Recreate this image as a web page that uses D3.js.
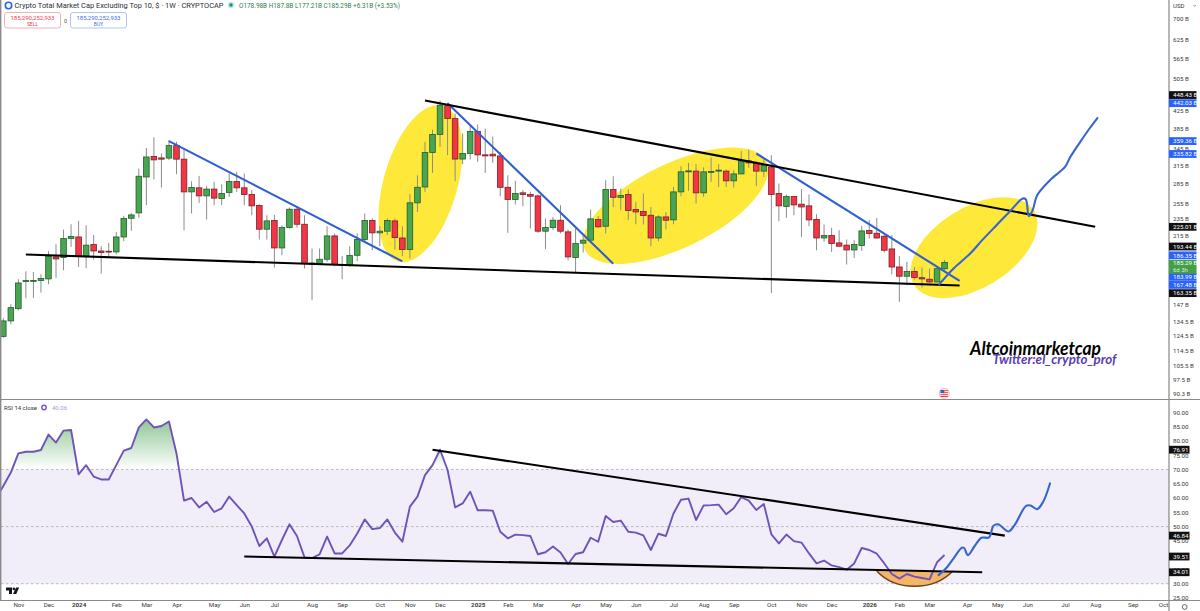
<!DOCTYPE html>
<html>
<head>
<meta charset="utf-8">
<script src="https://cdn.jsdelivr.net/npm/d3@7/dist/d3.min.js"></script>
<style>
	html, body { margin: 0; padding: 0; background: #fff; overflow: hidden; }
	text { font-family: Roboto, sans-serif; }
	.axis path, .axis line { display: none; }
</style>
</head>
<body>
<svg id="chart" width="1200" height="611"></svg>
<script>
// weekly candles in billions of USD
var opens = [123.7,134.6,143.9,166.9,167.4,167.8,169.3,190.9,190.3,211.1,
	212.9,191.6,204.3,197.2,196.9,196.2,212.9,235.8,242.8,295.4,
	330.3,327.8,327.5,350.6,325.6,272.3,278.4,266.4,276.5,262.7,
	271.5,288.2,278.4,268.5,252.7,222.1,232.9,200.5,224.1,247.7,
	228.2,184.7,184.1,188.5,214.1,183.1,182.4,192.6,210,232.9,
	217.7,219.7,232.4,211.7,198.8,256.5,279.7,337.7,372.7,437.2,
	406.3,325.8,335.9,378.9,333.3,334.6,331.4,279.2,261.3,270.9,
	268.5,266.4,219.7,224.1,233.3,218.9,190.3,205.8,209.2,234.2,
	225.7,275.9,264.3,268.5,247.3,244.7,239.7,211.7,237.5,233.7,
	272.3,303.8,305,270.9,303.3,305,305,289.2,300.4,322.6,
	317.8,305,312,270,251.5,265.5,254.6,252.3,234.2,211.7,
	214.5,206.1,203.6,198.3,203.2,220.5,217.3,213.7,199.4,180.7,
	171.8,176.2,170.4,169,166.5,178.98];
var highs = [136.6,147.4,169,176.5,175.8,173.6,196.9,204.6,221.7,228.2,
	232.4,227,215.3,202.4,206.1,218.9,239,242.7,309.2,346.1,
	367,335.9,361.3,358,345.8,288.7,297.1,281.1,287.6,284,
	301,303.8,301,274.9,254.6,239.7,240.1,227,250,250.8,
	239.7,199.9,199.9,225.8,217,191.8,202.4,217,242,235.5,
	226.1,235.5,235.5,225.7,269.2,298.2,358,382.5,448.4,442.9,
	417.9,374.7,392,393.5,384.7,368.5,338.8,298.2,289.2,274.9,
	272.3,268.5,235.5,237.5,253.2,221.7,222.9,215,247.3,238.4,
	290.3,296.6,277.5,275.9,257.9,270,250.8,239.7,244.1,279.7,
	313.2,319,316.8,311.4,328.4,316.8,307.8,306.6,340.7,343.3,
	322,326.9,332.7,285.1,268.5,266.4,276.5,268.5,241,227.8,
	223.7,220.9,210,209.2,226.1,233.3,236.2,215.7,215,191.8,
	185.8,180.7,180.1,179.2,179.2,187.8];
var lows = [122.7,132.1,142.6,152.3,152.6,157.1,164.4,170.3,177.5,201.6,
	180.7,179.4,188.2,174.3,190.3,193.4,208,220.1,236.5,253.2,
	291.4,278.8,323.8,300,220.9,242,256.5,234.2,253.2,253.2,
	265,272.3,253.2,239.7,209.9,209.9,180.1,192.6,222.9,224.1,
	179.2,150.7,183.4,185.8,181.4,169,180.7,186.5,207.3,198,
	202.4,215,198.8,191.8,189.3,244.1,272.3,302.1,348.1,332.7,
	288.7,316.8,325.1,320.8,302.1,319,265.9,217.7,254.2,251.8,
	222.9,217.7,199.1,220.9,217,187.5,175.3,195.5,207.3,223.7,
	217,250.8,246.4,233.3,228.2,227.8,202.4,208,221.7,228.2,
	265.9,273.8,255.6,265,287.6,279.7,279.7,278.8,300,310.6,
	281.3,295.4,156.8,232,236.2,239.7,212.9,225.7,198,207.3,
	196.2,201.6,183.1,189.7,197.2,211.1,211.1,195.5,173.6,149.3,
	163.5,168.7,161.5,165.6,166,177.21];
var closes = [134.6,144.7,165.6,167.8,167.8,169.7,191.6,188.8,211.1,213.4,
	191.6,203.6,197.2,195.5,196.3,212.9,235.5,240.1,296.6,329.5,
	324.3,325.6,350.6,325.6,272.3,279,266.4,276.5,263.2,270,
	288.2,278.4,268.5,252.3,222.1,232.4,200.5,224.1,247.7,228.2,
	184.1,183.9,188.5,214.1,183.1,182.7,192.3,210,232.9,217.7,
	219.7,232.9,212.1,198.8,256.5,279.2,337.7,372.7,437.2,406.3,
	325.8,335.9,378.9,333.3,331.5,331.4,279.2,261.3,270,268.5,
	265.9,219.7,224.1,233.3,219.7,190.9,205.4,209.2,235,225,
	275.9,264.3,267,246,244.1,239.3,211.7,237.5,233.3,272.3,
	303.8,305.4,270.9,303.8,304.3,306.6,289.2,300.4,322.6,319,
	305,315.1,268.5,252.3,265.5,253.6,250.8,233.7,211.7,214.5,
	205.4,202.4,198.3,204.3,220,217,211.7,198,180.7,171.8,
	176.2,170.7,169.3,166.5,178.98,185.29];

// RSI, first value sits one bar left of the first candle
var rsiFirstBar = -1;
var rsiValues = [59.8,64.2,68.9,75.6,76.2,76.2,76.8,82.2,79.4,83.6,83.8,
	68.3,71.5,67.5,66.5,66.5,71.5,76.6,77.5,84.7,87.5,
	84.7,85.2,86.8,75.6,59.1,60,56.7,58.7,55.1,56.4,
	60.5,57.5,54.6,50,43.2,45.9,39.5,45.3,50.8,46.7,
	39.2,39,40.3,46.5,40.6,40.6,43.4,47.6,52.5,49.1,
	49.5,52.5,47.9,44.7,57,60.5,68,71.5,76.9,69.8,
	56.7,58.1,62.2,55.7,55.7,55.6,48.2,45.9,47.2,47,
	46.7,40.3,41,43,40.9,36.9,40.4,41,46.1,44.7,
	53.7,51.6,52.1,48.2,47.9,46.9,41.8,47.5,46.7,54.6,
	59.4,59.8,52.3,57.4,57.5,57.7,54.3,56.4,60.3,59.1,
	55.8,57.9,47.3,44.1,47.2,44.9,44.4,40.6,37.1,38.1,
	36.4,35.8,34.9,37.1,42.5,41.8,40.5,37.1,33.4,31.8,
	33.4,32.5,32,31.5,37.5,40.06];

// trend lines as [bar, value, bar, value]
var blackPriceLines = [[3, 193.44, 127, 163.35], [56, 448.43, 145, 225.01]];
var bluePriceLines = [[22, 359.36, 53, 186.35], [59, 442.03, 81, 183.99], [100, 335.82, 127, 167.48]];
var blackRsiLines = [[32, 39.51, 130, 34.01], [57, 76.91, 133, 46.84]];

// hand drawn forecast paths, [bar, value]
var priceForecast = [[124.3,164.4],[126.2,179.2],[128.4,194.4],[130,209.2],[131.9,227],[133.7,245.1],
	[135.4,262.7],[135.8,261.3],[136.2,238.5],[136.7,246.4],[137.3,267.4],[139,290.3],
	[141,312],[141.7,329.5],[143,357.4],[144.3,386],[145.3,407.6]];
var rsiForecast = [[124.2,33],[125.3,35.7],[126.2,38.9],[127.3,42.6],[127.6,42.5],[128.1,40],[129,43.2],
	[129.9,46.1],[130.9,46.2],[131.5,50.3],[132.1,50.8],[133.5,48.3],[134.3,50.5],[135.8,57.2],
	[136.4,57.4],[137.3,56.1],[138.1,58.7],[139,65.1]];

// highlighted zones, [bar, value] of the centre
var zoneCentres = [[55.4, 284.9], [89.3, 252.5], [128.9, 200.8]];

var priceTicks = [700,625,565,505,425,385,345,315,285,255,235,215,147,134.5,124.5,114.5,105.5,97.5,90.3];
var rsiTicks = [90,85,80,75,70,65,60,55,50,45,40,35,30,25];
var rsiLevels = [70,50,30];
var timeBars = [2,6,10,15,19,23,28,32,36,41,45,50,54,58,63,67,71,76,80,84,89,93,97,102,106,110,115,119,123,128,132,136,141,145,150,154];
var timeLabels = ['Nov','Dec','2024','Feb','Mar','Apr','May','Jun','Jul','Aug','Sep','Oct','Nov','Dec','2025','Feb','Mar','Apr','May','Jun','Jul','Aug','Sep','Oct','Nov','Dec','2026','Feb','Mar','Apr','May','Jun','Jul','Aug','Sep','Oct'];

var priceTags = [448.43, 442.03, 359.36, 335.82, 225.01, 193.44, 186.35, 183.99, 167.48, 163.35];
var rsiTags = [76.91, 46.84, 39.51, 34.01];

var w = 1200;
var h = 611;
var axisX = 1169;

var svg = d3.select('#chart');

var x = d3.scaleLinear().domain([0, 125]).range([3.3, 944.55]);
var y = d3.scaleLog().domain([90.3, 700]).range([394, 19]);
var yr = d3.scaleLinear().domain([25, 90]).range([598, 412.3]);

var defs = svg.append('defs');
defs.append('clipPath').attr('id', 'plot_clip')
	.append('rect').attr('x', 1).attr('y', 0).attr('width', axisX - 1).attr('height', h);
defs.append('clipPath').attr('id', 'over_clip')
	.append('rect').attr('x', 1).attr('y', yr(90)).attr('width', axisX - 1).attr('height', yr(70) - yr(90));
var grad = defs.append('linearGradient').attr('id', 'over_grad')
	.attr('gradientUnits', 'userSpaceOnUse')
	.attr('x1', 0).attr('x2', 0).attr('y1', yr(88)).attr('y2', yr(70));
grad.append('stop').attr('offset', 0).attr('stop-color', '#3f9f48').attr('stop-opacity', 0.6);
grad.append('stop').attr('offset', 1).attr('stop-color', '#3f9f48').attr('stop-opacity', 0);

// yellow zones go under the candles
var zoneAxes = [[37, 81, 16], [42, 101, 64], [40, 70.5, 58]];
svg.selectAll('.zone')
	.data(zoneCentres)
	.enter().append('ellipse')
	.attr('class', 'zone')
	.attr('rx', (d, i) => zoneAxes[i][0])
	.attr('ry', (d, i) => zoneAxes[i][1])
	.attr('transform', (d, i) => 'translate(' + x(d[0]) + ',' + y(d[1]) + ') rotate(' + zoneAxes[i][2] + ')')
	.attr('fill', '#fee93a');

// candles
var bars = d3.range(opens.length);
var candle = svg.append('g').attr('clip-path', 'url(#plot_clip)')
	.selectAll('.candle')
	.data(bars)
	.enter().append('g')
	.attr('class', 'candle');

candle.append('line')
	.attr('x1', i => x(i))
	.attr('x2', i => x(i))
	.attr('y1', i => y(highs[i]))
	.attr('y2', i => y(lows[i]))
	.attr('stroke', '#8c8c8c')
	.attr('stroke-width', 1);

candle.append('rect')
	.attr('x', i => x(i) - 2.8)
	.attr('width', 5.6)
	.attr('y', i => y(Math.max(opens[i], closes[i])))
	.attr('height', i => Math.max(0.8, Math.abs(y(opens[i]) - y(closes[i]))))
	.attr('fill', i => closes[i] >= opens[i] ? '#4aa552' : '#f23645')
	.attr('stroke', i => closes[i] >= opens[i] ? '#1f5f2a' : '#7a1f28')
	.attr('stroke-width', 0.8);

function drawLines(lines, yscale, color) {
	svg.append('g').selectAll('line')
		.data(lines)
		.enter().append('line')
		.attr('x1', d => x(d[0]))
		.attr('y1', d => yscale(d[1]))
		.attr('x2', d => x(d[2]))
		.attr('y2', d => yscale(d[3]))
		.attr('stroke', color)
		.attr('stroke-width', 2.1);
}

function drawForecast(points, yscale) {
	var line = d3.line()
		.x(d => x(d[0]))
		.y(d => yscale(d[1]))
		.curve(d3.curveCatmullRom.alpha(0.5));
	svg.append('path')
		.attr('d', line(points))
		.attr('fill', 'none')
		.attr('stroke', '#3566cf')
		.attr('stroke-width', 2.1)
		.attr('stroke-linecap', 'round');
}

drawLines(bluePriceLines, y, '#2f5fd0');
drawLines(blackPriceLines, y, '#000');
drawForecast(priceForecast, y);

// RSI pane
svg.append('rect')
	.attr('x', 1)
	.attr('width', axisX - 1)
	.attr('y', yr(70))
	.attr('height', yr(30) - yr(70))
	.attr('fill', '#f1edf9');

svg.append('g').selectAll('line')
	.data(rsiLevels)
	.enter().append('line')
	.attr('x1', 1)
	.attr('x2', axisX)
	.attr('y1', d => yr(d))
	.attr('y2', d => yr(d))
	.attr('stroke', '#a9a9a9')
	.attr('stroke-width', 0.8)
	.attr('stroke-dasharray', '2.5,2.5');

var rsiX = (d, i) => x(i + rsiFirstBar);

svg.append('path')
	.attr('clip-path', 'url(#over_clip)')
	.attr('d', d3.area().x(rsiX).y0(yr(70)).y1(d => yr(d))(rsiValues))
	.attr('fill', 'url(#over_grad)');

// orange bowl under the RSI support line
var bowl = d3.path();
bowl.moveTo(x(116), yr(34.45));
bowl.bezierCurveTo(x(118.5), yr(27.3), x(123.5), yr(27.3), x(126.1), yr(34.45));
svg.append('path')
	.attr('d', bowl.toString() + 'Z')
	.attr('fill', '#f5b568');
svg.append('path')
	.attr('d', bowl.toString())
	.attr('fill', 'none')
	.attr('stroke', '#6e430f')
	.attr('stroke-width', 1.5);

svg.append('path')
	.attr('clip-path', 'url(#plot_clip)')
	.attr('d', d3.line().x(rsiX).y(d => yr(d))(rsiValues))
	.attr('fill', 'none')
	.attr('stroke', '#6f53b8')
	.attr('stroke-width', 1.9)
	.attr('stroke-linejoin', 'round');

drawLines(blackRsiLines, yr, '#000');
drawForecast(rsiForecast, yr);

// frame
var frame = svg.append('g').attr('stroke', '#8a8a8a');
frame.append('line').attr('x1', 0.7).attr('x2', 0.7).attr('y1', 0).attr('y2', 600).attr('stroke-width', 1.4);
frame.append('line').attr('x1', axisX).attr('x2', axisX).attr('y1', 0).attr('y2', h).attr('stroke-width', 1).attr('stroke', '#6f6f6f');
frame.append('line').attr('x1', 0).attr('x2', w).attr('y1', 399.5).attr('y2', 399.5).attr('stroke-width', 1);
frame.append('line').attr('x1', 0).attr('x2', w).attr('y1', 600.5).attr('y2', 600.5).attr('stroke-width', 1);

// axes
var priceAxis = svg.append('g')
	.attr('class', 'axis')
	.attr('transform', 'translate(' + axisX + ',0)')
	.call(d3.axisRight(y).tickValues(priceTicks).tickSize(0).tickPadding(4).tickFormat(d => d + ' B'));
var rsiAxis = svg.append('g')
	.attr('class', 'axis')
	.attr('transform', 'translate(' + axisX + ',0)')
	.call(d3.axisRight(yr).tickValues(rsiTicks).tickSize(0).tickPadding(4).tickFormat(d3.format('.2f')));
var timeAxis = svg.append('g')
	.attr('class', 'axis')
	.attr('transform', 'translate(0,601)')
	.call(d3.axisBottom(x).tickValues(timeBars).tickSize(0).tickPadding(2).tickFormat((d, i) => timeLabels[i]));

svg.selectAll('.axis text')
	.attr('font-size', 6.2)
	.attr('fill', '#3a3a3a')
	.style('font-family', 'Roboto, sans-serif');
timeAxis.selectAll('text').style('font-weight', (d, i) => /^20/.test(timeLabels[i]) ? 700 : 400);

// value flags on the price scale, the stacked ones get nudged apart
var priceTagShift = [-5.5, 0, 0, 0.5, 0, -8, -6, 13.2, 4, 7.7];
var priceTagColors = ['#111', '#2962ff', '#2962ff', '#2962ff', '#111', '#111', '#2962ff', '#2962ff', '#2962ff', '#111'];

var tag = svg.append('g').selectAll('g')
	.data(priceTags)
	.enter().append('g')
	.attr('transform', (d, i) => 'translate(' + axisX + ',' + (y(d) + priceTagShift[i]) + ')');
tag.append('rect')
	.attr('y', -3.9)
	.attr('width', 27.5)
	.attr('height', 7.8)
	.attr('fill', (d, i) => priceTagColors[i]);
tag.append('text')
	.attr('x', 4)
	.attr('dy', '0.35em')
	.attr('font-size', 6.2)
	.attr('fill', '#fff')
	.text(d => d3.format('.2f')(d) + ' B');

// last price flag
var lastTag = svg.append('g').attr('transform', 'translate(' + axisX + ',' + y(closes[closes.length - 1]) + ')');
lastTag.append('rect')
	.attr('y', -2.5)
	.attr('width', 27.5)
	.attr('height', 13.8)
	.attr('fill', '#43a047');
lastTag.append('text')
	.attr('x', 4)
	.attr('y', 3)
	.attr('font-size', 6.2)
	.attr('fill', '#fff')
	.text('185.29 B');
lastTag.append('text')
	.attr('x', 4)
	.attr('y', 9.2)
	.attr('font-size', 6)
	.attr('fill', '#d5efd6')
	.text('6d 3h');

var rtag = svg.append('g').selectAll('g')
	.data(rsiTags)
	.enter().append('g')
	.attr('transform', d => 'translate(' + axisX + ',' + yr(d) + ')');
rtag.append('rect')
	.attr('y', -3.9)
	.attr('width', 20.5)
	.attr('height', 7.8)
	.attr('fill', '#111');
rtag.append('text')
	.attr('x', 4)
	.attr('dy', '0.35em')
	.attr('font-size', 6.2)
	.attr('fill', '#fff')
	.text(d => d3.format('.2f')(d));

// header
svg.append('circle').attr('cx', 8.5).attr('cy', 5.5).attr('r', 3.2).attr('fill', '#fff').attr('stroke', '#2f62e0').attr('stroke-width', 1.6);
svg.append('text')
	.attr('x', 14.5).attr('y', 8.2)
	.attr('font-size', 7.6)
	.attr('fill', '#2a2e39')
	.attr('textLength', 209)
	.attr('lengthAdjust', 'spacingAndGlyphs')
	.text('Crypto Total Market Cap Excluding Top 10, $ · 1W · CRYPTOCAP');
svg.append('circle').attr('cx', 231).attr('cy', 5).attr('r', 3.2).attr('fill', '#bfe8e0');
svg.append('circle').attr('cx', 231).attr('cy', 5).attr('r', 1.7).attr('fill', '#12957f');
svg.append('text')
	.attr('x', 239).attr('y', 8)
	.attr('font-size', 6.4)
	.attr('fill', '#2f7d4d')
	.attr('textLength', 161)
	.attr('lengthAdjust', 'spacingAndGlyphs')
	.text('O178.98B H187.8B L177.21B C185.29B +6.31B (+3.53%)');

var orderBoxes = [['SELL', 4.5, '#f29aa3', '#e5434f'], ['BUY', 70.5, '#9ab6f2', '#3e6fe0']];
var box = svg.append('g').selectAll('g')
	.data(orderBoxes)
	.enter().append('g')
	.attr('transform', d => 'translate(' + d[1] + ',12.5)');
box.append('rect')
	.attr('width', 56)
	.attr('height', 15.5)
	.attr('rx', 2.5)
	.attr('fill', '#fff')
	.attr('stroke', d => d[2])
	.attr('stroke-width', 0.8);
box.append('text')
	.attr('x', 28).attr('y', 7)
	.attr('text-anchor', 'middle')
	.attr('font-size', 6)
	.attr('fill', d => d[3])
	.text('185,290,252,933');
box.append('text')
	.attr('x', 28).attr('y', 13.5)
	.attr('text-anchor', 'middle')
	.attr('font-size', 5)
	.attr('fill', d => d[3])
	.text(d => d[0]);
svg.append('text').attr('x', 65.5).attr('y', 22.5).attr('text-anchor', 'middle').attr('font-size', 5.5).attr('fill', '#555').text('0');

// scale corner
svg.append('text').attr('x', 1173).attr('y', 7.5).attr('font-size', 6).attr('fill', '#333').text('USD');
svg.append('path').attr('d', 'M1193.5,5 l1.2,1.4 l1.2,-1.4').attr('fill', 'none').attr('stroke', '#555').attr('stroke-width', 0.6);
svg.append('circle').attr('cx', 1184.7).attr('cy', 607).attr('r', 2.4).attr('fill', 'none').attr('stroke', '#444').attr('stroke-width', 0.8);

// RSI legend
svg.append('text').attr('x', 4).attr('y', 409.5).attr('font-size', 6).attr('fill', '#333').text('RSI 14 close');
svg.append('circle').attr('cx', 44).attr('cy', 407.5).attr('r', 2.2).attr('fill', '#fff').attr('stroke', '#7e57c2').attr('stroke-width', 1.4);
svg.append('text').attr('x', 52).attr('y', 409.5).attr('font-size', 6).attr('fill', '#ab94d8').text('40.06');

// TradingView mark
var logo = svg.append('g').attr('transform', 'translate(6,587.5)').attr('fill', '#131722');
logo.append('path').attr('d', 'M0,0 h6 v6.5 h-3 v-3.6 h-3 z');
logo.append('circle').attr('cx', 7.8).attr('cy', 1.4).attr('r', 1.3);
logo.append('path').attr('d', 'M10,0 h3.2 l-3,6.5 h-3.2 z');

// US event flag
var flag = svg.append('g').attr('transform', 'translate(944.3,393.3)');
flag.append('circle').attr('r', 5).attr('fill', '#fff').attr('stroke', '#f0a0a0').attr('stroke-width', 0.8);
flag.selectAll('line').data([-2.6, -0.6, 1.4, 3.2]).enter().append('line')
	.attr('x1', -3.8).attr('x2', 3.8).attr('y1', d => d).attr('y2', d => d)
	.attr('stroke', '#e0454f').attr('stroke-width', 1);
flag.append('rect').attr('x', -3.8).attr('y', -3.4).attr('width', 3.8).attr('height', 3.2).attr('fill', '#3f5fb5');

// watermark
svg.append('text')
	.attr('x', 970).attr('y', 355)
	.attr('font-size', 18)
	.attr('font-style', 'italic')
	.attr('font-weight', 700)
	.attr('fill', '#000')
	.attr('textLength', 131)
	.attr('lengthAdjust', 'spacingAndGlyphs')
	.style('font-family', 'Lato, sans-serif')
	.text('Altcoinmarketcap');
svg.append('text')
	.attr('x', 992.5).attr('y', 364)
	.attr('font-size', 12.5)
	.attr('font-style', 'italic')
	.attr('font-weight', 700)
	.attr('fill', '#5a3fb0')
	.attr('textLength', 124)
	.attr('lengthAdjust', 'spacingAndGlyphs')
	.style('font-family', 'Lato, sans-serif')
	.text('Twitter:el_crypto_prof');
</script>
</body>
</html>
